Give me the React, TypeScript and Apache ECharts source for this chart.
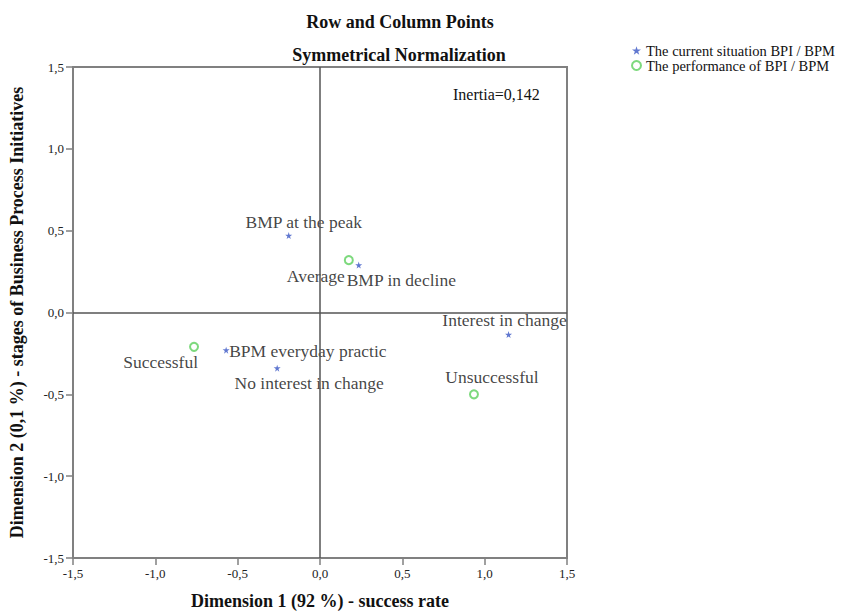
import React, { useEffect, useRef } from "react";
import * as echarts from "echarts";

const rowNames = ["BMP at the peak", "BMP in decline", "Interest in change", "BPM everyday practic", "No interest in change"];
const rowDim1 = [-0.19, 0.235, 1.145, -0.57, -0.26];
const rowDim2 = [0.47, 0.29, -0.135, -0.23, -0.34];

const colNames = ["Average", "Successful", "Unsuccessful"];
const colDim1 = [0.175, -0.765, 0.935];
const colDim2 = [0.32, -0.21, -0.5];

const rowSeriesName = "The current situation BPI / BPM";
const colSeriesName = "The performance of BPI / BPM";
const titleText = "Row and Column Points";
const subTitleText = "Symmetrical Normalization";
const inertiaText = "Inertia=0,142";
const xName = "Dimension 1 (92 %) - success rate";
const yName = "Dimension 2 (0,1 %) - stages of Business Process Initiatives";

// label placement (styling), keyed by point name
const labelPlacement: Record<string, { align: string; offset: number[] }> = {
  "BMP at the peak": { align: "center", offset: [15, -14] },
  "BMP in decline": { align: "left", offset: [-12, 15] },
  "Interest in change": { align: "center", offset: [-4, -15] },
  "BPM everyday practic": { align: "left", offset: [3, 1] },
  "No interest in change": { align: "center", offset: [32, 15] },
  Average: { align: "right", offset: [-4, 16] },
  Successful: { align: "right", offset: [4, 15] },
  Unsuccessful: { align: "center", offset: [18, -17] },
};

const SERIF = "'Liberation Serif', 'Times New Roman', serif";
const STAR = "path://M50,0 L61,35 L98,35 L68,57 L79,91 L50,70 L21,91 L32,57 L2,35 L39,35 Z";

function buildData(names: string[], d1: number[], d2: number[]) {
  return names.map((n, i) => {
    const p = labelPlacement[n];
    return {
      name: n,
      value: [d1[i], d2[i]],
      label: {
        show: true,
        position: "inside",
        align: p.align,
        verticalAlign: "middle",
        offset: p.offset,
        formatter: n,
        color: "#111",
        fontFamily: SERIF,
        fontSize: 17.5,
      },
    };
  });
}

const fmt = (v: number) => v.toFixed(1).replace(".", ",");

export default function App() {
  const ref = useRef<HTMLDivElement>(null);
  useEffect(() => {
    document.body.style.margin = "0";
    if (!ref.current) return;
    const chart = echarts.init(ref.current, undefined, { renderer: "svg" });
    const axisCommon = {
      type: "value",
      min: -1.5,
      max: 1.5,
      interval: 0.5,
      nameLocation: "middle",
      nameTextStyle: { fontFamily: SERIF, fontSize: 18, fontWeight: "bold", color: "#111" },
      axisLine: { show: true, onZero: false, lineStyle: { color: "#808080", width: 2 } },
      axisTick: { show: true, length: 7, lineStyle: { color: "#808080", width: 1.5 } },
      axisLabel: { formatter: fmt, fontFamily: SERIF, fontSize: 13, color: "#222", margin: 9 },
      splitLine: { show: false },
    };
    chart.setOption({
      animation: false,
      backgroundColor: "#fff",
      title: [
        {
          text: titleText,
          left: 395,
          top: 8,
          textAlign: "center",
          textStyle: { fontFamily: SERIF, fontSize: 18, fontWeight: "bold", color: "#111" },
        },
        {
          text: subTitleText,
          left: 394,
          top: 41,
          textAlign: "center",
          textStyle: { fontFamily: SERIF, fontSize: 18, fontWeight: "bold", color: "#111" },
        },
      ],
      legend: {
        orient: "vertical",
        left: 626,
        top: 38,
        itemWidth: 9,
        itemHeight: 9,
        itemGap: 0,
        textStyle: { fontFamily: SERIF, fontSize: 14.5, color: "#111" },
        data: [rowSeriesName, colSeriesName],
      },
      grid: {
        left: 69,
        top: 67,
        width: 498,
        height: 499,
        show: true,
        borderColor: "#808080",
        borderWidth: 2,
        backgroundColor: "transparent",
      },
      xAxis: { ...axisCommon, name: xName, nameGap: 34 },
      yAxis: { ...axisCommon, name: yName, nameGap: 47 },
      graphic: [
        {
          type: "text",
          left: 453,
          top: 86,
          style: { text: inertiaText, fontFamily: SERIF, fontSize: 16, fill: "#111" },
        },
      ],
      series: [
        {
          name: rowSeriesName,
          type: "scatter",
          symbol: STAR,
          symbolSize: 7,
          itemStyle: { color: "#3a56c4" },
          data: buildData(rowNames, rowDim1, rowDim2),
          markLine: {
            silent: true,
            symbol: "none",
            label: { show: false },
            lineStyle: { color: "#555", width: 1.5, type: "solid" },
            data: [{ xAxis: 0 }, { yAxis: 0 }],
          },
          z: 3,
        },
        {
          name: colSeriesName,
          type: "scatter",
          symbol: "emptyCircle",
          symbolSize: 8,
          itemStyle: { color: "#5ccf5c", borderWidth: 1.5 },
          data: buildData(colNames, colDim1, colDim2),
          z: 3,
        },
      ],
    });
    return () => chart.dispose();
  }, []);
  return <div ref={ref} style={{ width: 846, height: 615 }} />;
}
